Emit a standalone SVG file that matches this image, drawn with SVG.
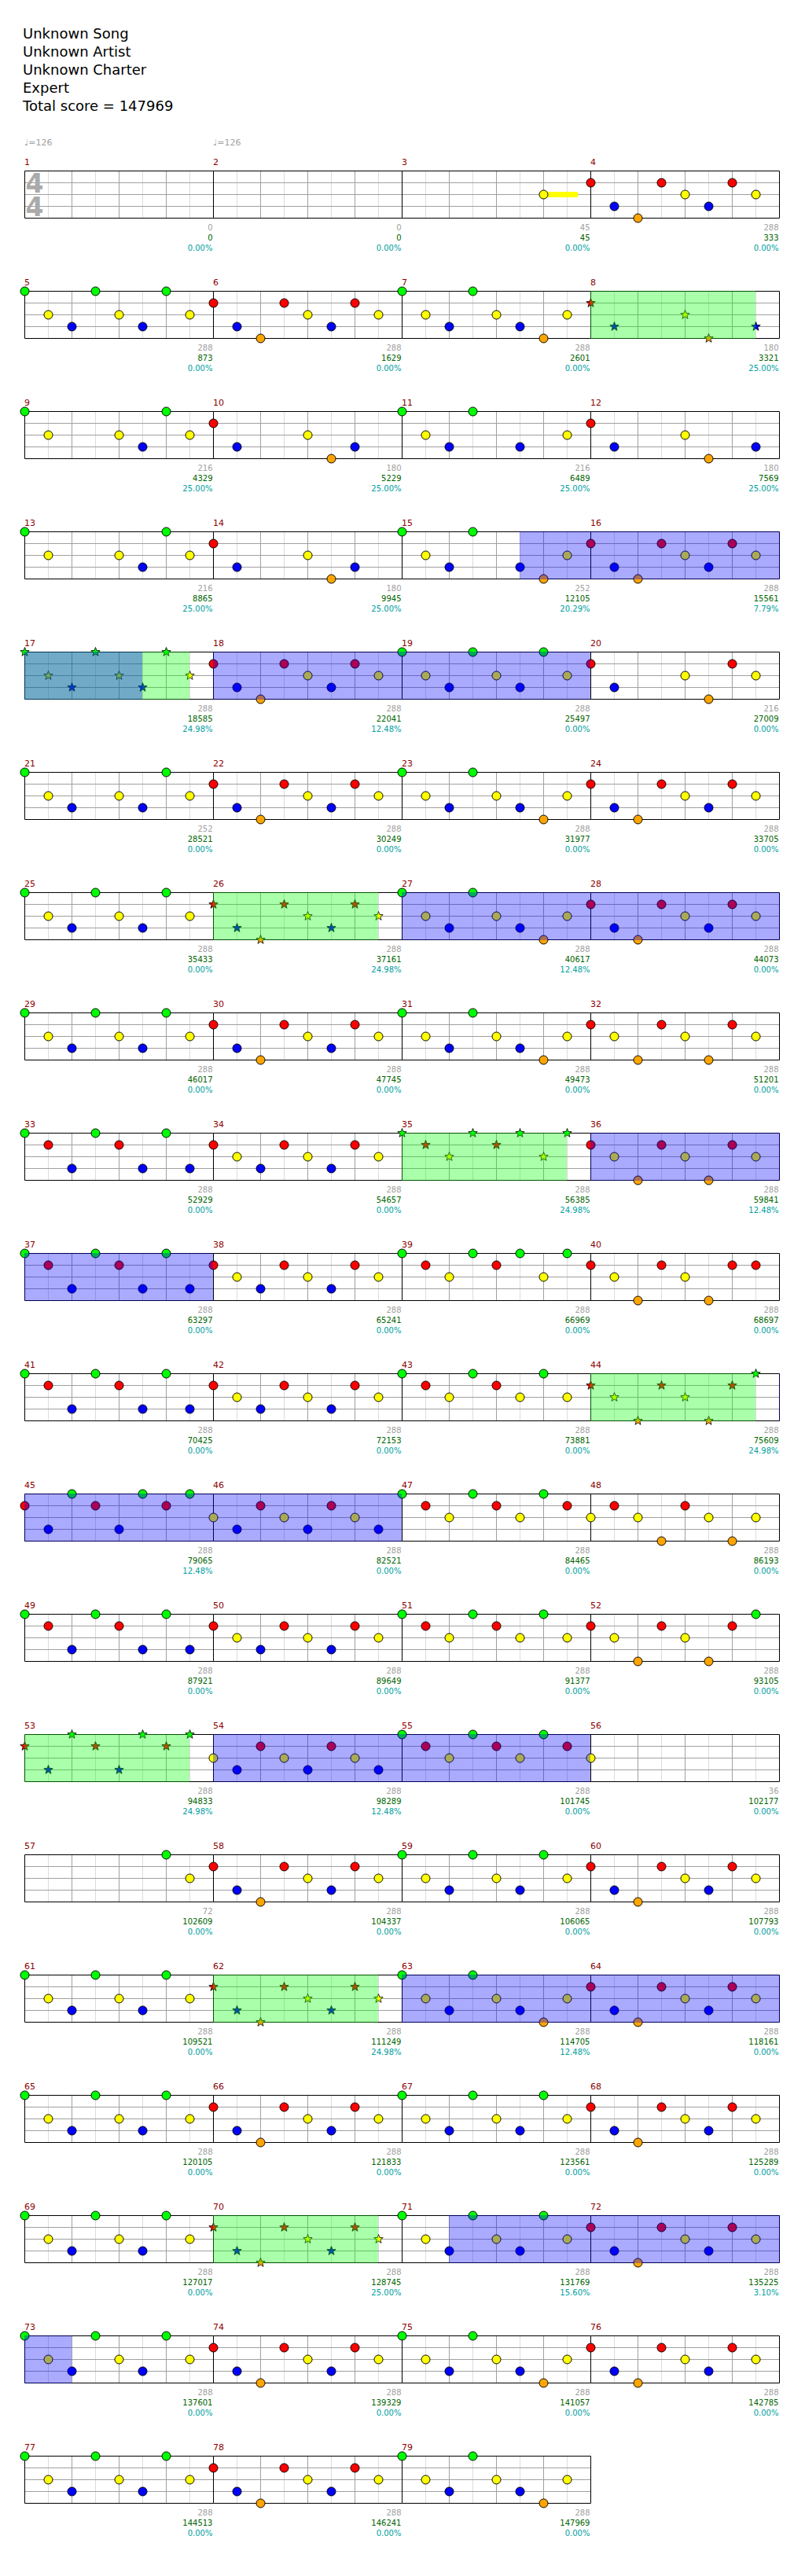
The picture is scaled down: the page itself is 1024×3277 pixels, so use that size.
<svg xmlns="http://www.w3.org/2000/svg" xmlns:xlink="http://www.w3.org/1999/xlink" width="1024" height="3277" viewBox="0 0 1024 3277">
<style>
.mn{font:11px "DejaVu Sans",sans-serif;fill:#8b0000}
.s1,.s2,.s3{font:10px "DejaVu Sans",sans-serif;text-anchor:end}
.s1{fill:#a0a0a0}.s2{fill:#006400}.s3{fill:#00a0a0}
.hd{font:18px "DejaVu Sans",sans-serif;fill:#000}
.tp{font:11px "DejaVu Sans",sans-serif;fill:#a0a0a0}
.ts{font:bold 33px "DejaVu Sans",sans-serif;fill:#aaa;text-anchor:middle}
.n{stroke:#000;stroke-width:1}
.st{stroke:#000;stroke-width:.8}
.gn{fill:#0f0;opacity:.333}.bl{fill:#00f;opacity:.333}
</style>
<defs>
<g id="grid">
<path d="M30 0V60M90 0V60M150 0V60M210 0V60" stroke="#dcdcdc"/>
<path d="M60 0V60M120 0V60M180 0V60M0 15H240M0 30H240M0 45H240" stroke="#a0a0a0"/>
<path d="M0 0H240V60H0Z" fill="none" stroke="#000"/>
</g>
<circle id="G" r="5.5" class="n" fill="#0f0"/>
<circle id="R" cy="15" r="5.5" class="n" fill="#f00"/>
<circle id="Y" cy="30" r="5.5" class="n" fill="#ff0"/>
<circle id="B" cy="45" r="5.5" class="n" fill="#00f"/>
<circle id="O" cy="60" r="5.5" class="n" fill="#ffa500"/>
<polygon id="st" class="st" points="0,-6 1.47,-2.02 5.71,-1.85 2.38,.77 3.53,4.85 0,2.5 -3.53,4.85 -2.38,.77 -5.71,-1.85 -1.47,-2.02"/>
<use id="sG" href="#st" fill="#0f0"/>
<use id="sR" href="#st" y="15" fill="#f00"/>
<use id="sY" href="#st" y="30" fill="#ff0"/>
<use id="sB" href="#st" y="45" fill="#00f"/>
<use id="sO" href="#st" y="60" fill="#ffa500"/>
<g id="PA"><use href="#G"/><use href="#Y" x="30"/><use href="#B" x="60"/><use href="#G" x="90"/><use href="#Y" x="120"/><use href="#B" x="150"/><use href="#G" x="180"/><use href="#Y" x="210"/></g>
<g id="PB"><use href="#R"/><use href="#B" x="30"/><use href="#O" x="60"/><use href="#R" x="90"/><use href="#Y" x="120"/><use href="#B" x="150"/><use href="#R" x="180"/><use href="#Y" x="210"/></g>
<g id="PC"><use href="#G"/><use href="#Y" x="30"/><use href="#B" x="60"/><use href="#G" x="90"/><use href="#Y" x="120"/><use href="#B" x="150"/><use href="#O" x="180"/><use href="#Y" x="210"/></g>
<g id="PD"><use href="#R"/><use href="#Y" x="30"/><use href="#O" x="60"/><use href="#R" x="90"/><use href="#Y" x="120"/><use href="#O" x="150"/><use href="#R" x="180"/><use href="#Y" x="210"/></g>
<g id="PE"><use href="#G"/><use href="#R" x="30"/><use href="#B" x="60"/><use href="#G" x="90"/><use href="#R" x="120"/><use href="#B" x="150"/><use href="#G" x="180"/><use href="#B" x="210"/></g>
<g id="PF"><use href="#R"/><use href="#Y" x="30"/><use href="#B" x="60"/><use href="#R" x="90"/><use href="#Y" x="120"/><use href="#B" x="150"/><use href="#R" x="180"/><use href="#Y" x="210"/></g>
<g id="PG"><use href="#G"/><use href="#R" x="30"/><use href="#Y" x="60"/><use href="#G" x="90"/><use href="#R" x="120"/><use href="#G" x="150"/><use href="#Y" x="180"/><use href="#G" x="210"/></g>
<g id="PH"><use href="#G"/><use href="#R" x="30"/><use href="#Y" x="60"/><use href="#G" x="90"/><use href="#R" x="120"/><use href="#Y" x="150"/><use href="#G" x="180"/><use href="#Y" x="210"/></g>
<g id="PI"><use href="#R"/><use href="#Y" x="30"/><use href="#O" x="60"/><use href="#R" x="90"/><use href="#Y" x="120"/><use href="#O" x="150"/><use href="#R" x="180"/><use href="#G" x="210"/></g>
<g id="PJ"><use href="#R"/><use href="#B" x="30"/><use href="#G" x="60"/><use href="#R" x="90"/><use href="#B" x="120"/><use href="#G" x="150"/><use href="#R" x="180"/><use href="#G" x="210"/></g>
<g id="PK"><use href="#Y"/><use href="#B" x="30"/><use href="#R" x="60"/><use href="#Y" x="90"/><use href="#B" x="120"/><use href="#R" x="150"/><use href="#Y" x="180"/><use href="#B" x="210"/></g>
<g id="PL"><use href="#G"/><use href="#R" x="30"/><use href="#Y" x="60"/><use href="#G" x="90"/><use href="#R" x="120"/><use href="#Y" x="150"/><use href="#G" x="180"/><use href="#R" x="210"/></g>
<g id="SA"><use href="#sG"/><use href="#sY" x="30"/><use href="#sB" x="60"/><use href="#sG" x="90"/><use href="#sY" x="120"/><use href="#sB" x="150"/><use href="#sG" x="180"/><use href="#sY" x="210"/></g>
<g id="SB"><use href="#sR"/><use href="#sB" x="30"/><use href="#sO" x="60"/><use href="#sR" x="90"/><use href="#sY" x="120"/><use href="#sB" x="150"/><use href="#sR" x="180"/><use href="#sY" x="210"/></g>
<g id="SG"><use href="#sG"/><use href="#sR" x="30"/><use href="#sY" x="60"/><use href="#sG" x="90"/><use href="#sR" x="120"/><use href="#sG" x="150"/><use href="#sY" x="180"/><use href="#sG" x="210"/></g>
<g id="SI"><use href="#sR"/><use href="#sY" x="30"/><use href="#sO" x="60"/><use href="#sR" x="90"/><use href="#sY" x="120"/><use href="#sO" x="150"/><use href="#sR" x="180"/><use href="#sG" x="210"/></g>
<g id="SJ"><use href="#sR"/><use href="#sB" x="30"/><use href="#sG" x="60"/><use href="#sR" x="90"/><use href="#sB" x="120"/><use href="#sG" x="150"/><use href="#sR" x="180"/><use href="#sG" x="210"/></g>
</defs>
<rect width="1024" height="3277" fill="#fff"/>
<g id="header">
<text class="hd" x="29" y="49">Unknown Song</text>
<text class="hd" x="29" y="72">Unknown Artist</text>
<text class="hd" x="29" y="95">Unknown Charter</text>
<text class="hd" x="29" y="118">Expert</text>
<text class="hd" x="29" y="141">Total score = 147969</text>
<text class="tp" x="31" y="185">♩=126</text>
<text class="tp" x="271" y="185">♩=126</text>
</g>
<g id="measures">
<g id="m1" transform="translate(31.5,217.5)"><use href="#grid"/><text class="ts" x="12.5" y="27.5">4</text><text class="ts" x="12.5" y="57">4</text><text class="mn" x="-.5" y="-7.5">1</text><text class="s1" x="239" y="75">0</text><text class="s2" x="239" y="88">0</text><text class="s3" x="239" y="101">0.00%</text></g>
<g id="m2" transform="translate(271.5,217.5)"><use href="#grid"/><text class="mn" x="-.5" y="-7.5">2</text><text class="s1" x="239" y="75">0</text><text class="s2" x="239" y="88">0</text><text class="s3" x="239" y="101">0.00%</text></g>
<g id="m3" transform="translate(511.5,217.5)"><use href="#grid"/><rect x="179.5" y="26.5" width="44" height="7" fill="#ff0"/><use href="#Y" x="180"/><text class="mn" x="-.5" y="-7.5">3</text><text class="s1" x="239" y="75">45</text><text class="s2" x="239" y="88">45</text><text class="s3" x="239" y="101">0.00%</text></g>
<g id="m4" transform="translate(751.5,217.5)"><use href="#grid"/><use href="#PB"/><text class="mn" x="-.5" y="-7.5">4</text><text class="s1" x="239" y="75">288</text><text class="s2" x="239" y="88">333</text><text class="s3" x="239" y="101">0.00%</text></g>

<g id="m5" transform="translate(31.5,370.5)"><use href="#grid"/><use href="#PA"/><text class="mn" x="-.5" y="-7.5">5</text><text class="s1" x="239" y="75">288</text><text class="s2" x="239" y="88">873</text><text class="s3" x="239" y="101">0.00%</text></g>
<g id="m6" transform="translate(271.5,370.5)"><use href="#grid"/><use href="#PB"/><text class="mn" x="-.5" y="-7.5">6</text><text class="s1" x="239" y="75">288</text><text class="s2" x="239" y="88">1629</text><text class="s3" x="239" y="101">0.00%</text></g>
<g id="m7" transform="translate(511.5,370.5)"><use href="#grid"/><use href="#PC"/><text class="mn" x="-.5" y="-7.5">7</text><text class="s1" x="239" y="75">288</text><text class="s2" x="239" y="88">2601</text><text class="s3" x="239" y="101">0.00%</text></g>
<g id="m8" transform="translate(751.5,370.5)"><use href="#grid"/><use href="#sR"/><use href="#sB" x="30"/><use href="#sY" x="120"/><use href="#sO" x="150"/><use href="#sB" x="210"/><text class="mn" x="-.5" y="-7.5">8</text><text class="s1" x="239" y="75">180</text><text class="s2" x="239" y="88">3321</text><text class="s3" x="239" y="101">25.00%</text></g>

<g id="m9" transform="translate(31.5,523.5)"><use href="#grid"/><use href="#G"/><use href="#Y" x="30"/><use href="#Y" x="120"/><use href="#B" x="150"/><use href="#G" x="180"/><use href="#Y" x="210"/><text class="mn" x="-.5" y="-7.5">9</text><text class="s1" x="239" y="75">216</text><text class="s2" x="239" y="88">4329</text><text class="s3" x="239" y="101">25.00%</text></g>
<g id="m10" transform="translate(271.5,523.5)"><use href="#grid"/><use href="#R"/><use href="#B" x="30"/><use href="#Y" x="120"/><use href="#O" x="150"/><use href="#B" x="180"/><text class="mn" x="-.5" y="-7.5">10</text><text class="s1" x="239" y="75">180</text><text class="s2" x="239" y="88">5229</text><text class="s3" x="239" y="101">25.00%</text></g>
<g id="m11" transform="translate(511.5,523.5)"><use href="#grid"/><use href="#G"/><use href="#Y" x="30"/><use href="#B" x="60"/><use href="#G" x="90"/><use href="#B" x="150"/><use href="#Y" x="210"/><text class="mn" x="-.5" y="-7.5">11</text><text class="s1" x="239" y="75">216</text><text class="s2" x="239" y="88">6489</text><text class="s3" x="239" y="101">25.00%</text></g>
<g id="m12" transform="translate(751.5,523.5)"><use href="#grid"/><use href="#R"/><use href="#B" x="30"/><use href="#Y" x="120"/><use href="#O" x="150"/><use href="#B" x="210"/><text class="mn" x="-.5" y="-7.5">12</text><text class="s1" x="239" y="75">180</text><text class="s2" x="239" y="88">7569</text><text class="s3" x="239" y="101">25.00%</text></g>

<g id="m13" transform="translate(31.5,676.5)"><use href="#grid"/><use href="#G"/><use href="#Y" x="30"/><use href="#Y" x="120"/><use href="#B" x="150"/><use href="#G" x="180"/><use href="#Y" x="210"/><text class="mn" x="-.5" y="-7.5">13</text><text class="s1" x="239" y="75">216</text><text class="s2" x="239" y="88">8865</text><text class="s3" x="239" y="101">25.00%</text></g>
<g id="m14" transform="translate(271.5,676.5)"><use href="#grid"/><use href="#R"/><use href="#B" x="30"/><use href="#Y" x="120"/><use href="#O" x="150"/><use href="#B" x="180"/><text class="mn" x="-.5" y="-7.5">14</text><text class="s1" x="239" y="75">180</text><text class="s2" x="239" y="88">9945</text><text class="s3" x="239" y="101">25.00%</text></g>
<g id="m15" transform="translate(511.5,676.5)"><use href="#grid"/><use href="#G"/><use href="#Y" x="30"/><use href="#B" x="60"/><use href="#G" x="90"/><use href="#B" x="150"/><use href="#O" x="180"/><use href="#Y" x="210"/><text class="mn" x="-.5" y="-7.5">15</text><text class="s1" x="239" y="75">252</text><text class="s2" x="239" y="88">12105</text><text class="s3" x="239" y="101">20.29%</text></g>
<g id="m16" transform="translate(751.5,676.5)"><use href="#grid"/><use href="#PB"/><text class="mn" x="-.5" y="-7.5">16</text><text class="s1" x="239" y="75">288</text><text class="s2" x="239" y="88">15561</text><text class="s3" x="239" y="101">7.79%</text></g>

<g id="m17" transform="translate(31.5,829.5)"><use href="#grid"/><use href="#SA"/><text class="mn" x="-.5" y="-7.5">17</text><text class="s1" x="239" y="75">288</text><text class="s2" x="239" y="88">18585</text><text class="s3" x="239" y="101">24.98%</text></g>
<g id="m18" transform="translate(271.5,829.5)"><use href="#grid"/><use href="#PB"/><text class="mn" x="-.5" y="-7.5">18</text><text class="s1" x="239" y="75">288</text><text class="s2" x="239" y="88">22041</text><text class="s3" x="239" y="101">12.48%</text></g>
<g id="m19" transform="translate(511.5,829.5)"><use href="#grid"/><use href="#PA"/><text class="mn" x="-.5" y="-7.5">19</text><text class="s1" x="239" y="75">288</text><text class="s2" x="239" y="88">25497</text><text class="s3" x="239" y="101">0.00%</text></g>
<g id="m20" transform="translate(751.5,829.5)"><use href="#grid"/><use href="#R"/><use href="#B" x="30"/><use href="#Y" x="120"/><use href="#O" x="150"/><use href="#R" x="180"/><use href="#Y" x="210"/><text class="mn" x="-.5" y="-7.5">20</text><text class="s1" x="239" y="75">216</text><text class="s2" x="239" y="88">27009</text><text class="s3" x="239" y="101">0.00%</text></g>

<g id="m21" transform="translate(31.5,982.5)"><use href="#grid"/><use href="#G"/><use href="#Y" x="30"/><use href="#B" x="60"/><use href="#Y" x="120"/><use href="#B" x="150"/><use href="#G" x="180"/><use href="#Y" x="210"/><text class="mn" x="-.5" y="-7.5">21</text><text class="s1" x="239" y="75">252</text><text class="s2" x="239" y="88">28521</text><text class="s3" x="239" y="101">0.00%</text></g>
<g id="m22" transform="translate(271.5,982.5)"><use href="#grid"/><use href="#PB"/><text class="mn" x="-.5" y="-7.5">22</text><text class="s1" x="239" y="75">288</text><text class="s2" x="239" y="88">30249</text><text class="s3" x="239" y="101">0.00%</text></g>
<g id="m23" transform="translate(511.5,982.5)"><use href="#grid"/><use href="#PC"/><text class="mn" x="-.5" y="-7.5">23</text><text class="s1" x="239" y="75">288</text><text class="s2" x="239" y="88">31977</text><text class="s3" x="239" y="101">0.00%</text></g>
<g id="m24" transform="translate(751.5,982.5)"><use href="#grid"/><use href="#PB"/><text class="mn" x="-.5" y="-7.5">24</text><text class="s1" x="239" y="75">288</text><text class="s2" x="239" y="88">33705</text><text class="s3" x="239" y="101">0.00%</text></g>

<g id="m25" transform="translate(31.5,1135.5)"><use href="#grid"/><use href="#PA"/><text class="mn" x="-.5" y="-7.5">25</text><text class="s1" x="239" y="75">288</text><text class="s2" x="239" y="88">35433</text><text class="s3" x="239" y="101">0.00%</text></g>
<g id="m26" transform="translate(271.5,1135.5)"><use href="#grid"/><use href="#SB"/><text class="mn" x="-.5" y="-7.5">26</text><text class="s1" x="239" y="75">288</text><text class="s2" x="239" y="88">37161</text><text class="s3" x="239" y="101">24.98%</text></g>
<g id="m27" transform="translate(511.5,1135.5)"><use href="#grid"/><use href="#PC"/><text class="mn" x="-.5" y="-7.5">27</text><text class="s1" x="239" y="75">288</text><text class="s2" x="239" y="88">40617</text><text class="s3" x="239" y="101">12.48%</text></g>
<g id="m28" transform="translate(751.5,1135.5)"><use href="#grid"/><use href="#PB"/><text class="mn" x="-.5" y="-7.5">28</text><text class="s1" x="239" y="75">288</text><text class="s2" x="239" y="88">44073</text><text class="s3" x="239" y="101">0.00%</text></g>

<g id="m29" transform="translate(31.5,1288.5)"><use href="#grid"/><use href="#PA"/><text class="mn" x="-.5" y="-7.5">29</text><text class="s1" x="239" y="75">288</text><text class="s2" x="239" y="88">46017</text><text class="s3" x="239" y="101">0.00%</text></g>
<g id="m30" transform="translate(271.5,1288.5)"><use href="#grid"/><use href="#PB"/><text class="mn" x="-.5" y="-7.5">30</text><text class="s1" x="239" y="75">288</text><text class="s2" x="239" y="88">47745</text><text class="s3" x="239" y="101">0.00%</text></g>
<g id="m31" transform="translate(511.5,1288.5)"><use href="#grid"/><use href="#PC"/><text class="mn" x="-.5" y="-7.5">31</text><text class="s1" x="239" y="75">288</text><text class="s2" x="239" y="88">49473</text><text class="s3" x="239" y="101">0.00%</text></g>
<g id="m32" transform="translate(751.5,1288.5)"><use href="#grid"/><use href="#PD"/><text class="mn" x="-.5" y="-7.5">32</text><text class="s1" x="239" y="75">288</text><text class="s2" x="239" y="88">51201</text><text class="s3" x="239" y="101">0.00%</text></g>

<g id="m33" transform="translate(31.5,1441.5)"><use href="#grid"/><use href="#PE"/><text class="mn" x="-.5" y="-7.5">33</text><text class="s1" x="239" y="75">288</text><text class="s2" x="239" y="88">52929</text><text class="s3" x="239" y="101">0.00%</text></g>
<g id="m34" transform="translate(271.5,1441.5)"><use href="#grid"/><use href="#PF"/><text class="mn" x="-.5" y="-7.5">34</text><text class="s1" x="239" y="75">288</text><text class="s2" x="239" y="88">54657</text><text class="s3" x="239" y="101">0.00%</text></g>
<g id="m35" transform="translate(511.5,1441.5)"><use href="#grid"/><use href="#SG"/><text class="mn" x="-.5" y="-7.5">35</text><text class="s1" x="239" y="75">288</text><text class="s2" x="239" y="88">56385</text><text class="s3" x="239" y="101">24.98%</text></g>
<g id="m36" transform="translate(751.5,1441.5)"><use href="#grid"/><use href="#PD"/><text class="mn" x="-.5" y="-7.5">36</text><text class="s1" x="239" y="75">288</text><text class="s2" x="239" y="88">59841</text><text class="s3" x="239" y="101">12.48%</text></g>

<g id="m37" transform="translate(31.5,1594.5)"><use href="#grid"/><use href="#PE"/><text class="mn" x="-.5" y="-7.5">37</text><text class="s1" x="239" y="75">288</text><text class="s2" x="239" y="88">63297</text><text class="s3" x="239" y="101">0.00%</text></g>
<g id="m38" transform="translate(271.5,1594.5)"><use href="#grid"/><use href="#PF"/><text class="mn" x="-.5" y="-7.5">38</text><text class="s1" x="239" y="75">288</text><text class="s2" x="239" y="88">65241</text><text class="s3" x="239" y="101">0.00%</text></g>
<g id="m39" transform="translate(511.5,1594.5)"><use href="#grid"/><use href="#PG"/><text class="mn" x="-.5" y="-7.5">39</text><text class="s1" x="239" y="75">288</text><text class="s2" x="239" y="88">66969</text><text class="s3" x="239" y="101">0.00%</text></g>
<g id="m40" transform="translate(751.5,1594.5)"><use href="#grid"/><use href="#R"/><use href="#Y" x="30"/><use href="#O" x="60"/><use href="#R" x="90"/><use href="#Y" x="120"/><use href="#O" x="150"/><use href="#R" x="180"/><use href="#R" x="210"/><text class="mn" x="-.5" y="-7.5">40</text><text class="s1" x="239" y="75">288</text><text class="s2" x="239" y="88">68697</text><text class="s3" x="239" y="101">0.00%</text></g>

<g id="m41" transform="translate(31.5,1747.5)"><use href="#grid"/><use href="#PE"/><text class="mn" x="-.5" y="-7.5">41</text><text class="s1" x="239" y="75">288</text><text class="s2" x="239" y="88">70425</text><text class="s3" x="239" y="101">0.00%</text></g>
<g id="m42" transform="translate(271.5,1747.5)"><use href="#grid"/><use href="#PF"/><text class="mn" x="-.5" y="-7.5">42</text><text class="s1" x="239" y="75">288</text><text class="s2" x="239" y="88">72153</text><text class="s3" x="239" y="101">0.00%</text></g>
<g id="m43" transform="translate(511.5,1747.5)"><use href="#grid"/><use href="#PH"/><text class="mn" x="-.5" y="-7.5">43</text><text class="s1" x="239" y="75">288</text><text class="s2" x="239" y="88">73881</text><text class="s3" x="239" y="101">0.00%</text></g>
<g id="m44" transform="translate(751.5,1747.5)"><use href="#grid"/><use href="#SI"/><text class="mn" x="-.5" y="-7.5">44</text><text class="s1" x="239" y="75">288</text><text class="s2" x="239" y="88">75609</text><text class="s3" x="239" y="101">24.98%</text></g>

<g id="m45" transform="translate(31.5,1900.5)"><use href="#grid"/><use href="#PJ"/><text class="mn" x="-.5" y="-7.5">45</text><text class="s1" x="239" y="75">288</text><text class="s2" x="239" y="88">79065</text><text class="s3" x="239" y="101">12.48%</text></g>
<g id="m46" transform="translate(271.5,1900.5)"><use href="#grid"/><use href="#PK"/><text class="mn" x="-.5" y="-7.5">46</text><text class="s1" x="239" y="75">288</text><text class="s2" x="239" y="88">82521</text><text class="s3" x="239" y="101">0.00%</text></g>
<g id="m47" transform="translate(511.5,1900.5)"><use href="#grid"/><use href="#PL"/><text class="mn" x="-.5" y="-7.5">47</text><text class="s1" x="239" y="75">288</text><text class="s2" x="239" y="88">84465</text><text class="s3" x="239" y="101">0.00%</text></g>
<g id="m48" transform="translate(751.5,1900.5)"><use href="#grid"/><use href="#Y"/><use href="#R" x="30"/><use href="#Y" x="60"/><use href="#O" x="90"/><use href="#R" x="120"/><use href="#Y" x="150"/><use href="#O" x="180"/><use href="#Y" x="210"/><text class="mn" x="-.5" y="-7.5">48</text><text class="s1" x="239" y="75">288</text><text class="s2" x="239" y="88">86193</text><text class="s3" x="239" y="101">0.00%</text></g>

<g id="m49" transform="translate(31.5,2053.5)"><use href="#grid"/><use href="#PE"/><text class="mn" x="-.5" y="-7.5">49</text><text class="s1" x="239" y="75">288</text><text class="s2" x="239" y="88">87921</text><text class="s3" x="239" y="101">0.00%</text></g>
<g id="m50" transform="translate(271.5,2053.5)"><use href="#grid"/><use href="#PF"/><text class="mn" x="-.5" y="-7.5">50</text><text class="s1" x="239" y="75">288</text><text class="s2" x="239" y="88">89649</text><text class="s3" x="239" y="101">0.00%</text></g>
<g id="m51" transform="translate(511.5,2053.5)"><use href="#grid"/><use href="#PH"/><text class="mn" x="-.5" y="-7.5">51</text><text class="s1" x="239" y="75">288</text><text class="s2" x="239" y="88">91377</text><text class="s3" x="239" y="101">0.00%</text></g>
<g id="m52" transform="translate(751.5,2053.5)"><use href="#grid"/><use href="#PI"/><text class="mn" x="-.5" y="-7.5">52</text><text class="s1" x="239" y="75">288</text><text class="s2" x="239" y="88">93105</text><text class="s3" x="239" y="101">0.00%</text></g>

<g id="m53" transform="translate(31.5,2206.5)"><use href="#grid"/><use href="#SJ"/><text class="mn" x="-.5" y="-7.5">53</text><text class="s1" x="239" y="75">288</text><text class="s2" x="239" y="88">94833</text><text class="s3" x="239" y="101">24.98%</text></g>
<g id="m54" transform="translate(271.5,2206.5)"><use href="#grid"/><use href="#PK"/><text class="mn" x="-.5" y="-7.5">54</text><text class="s1" x="239" y="75">288</text><text class="s2" x="239" y="88">98289</text><text class="s3" x="239" y="101">12.48%</text></g>
<g id="m55" transform="translate(511.5,2206.5)"><use href="#grid"/><use href="#PL"/><text class="mn" x="-.5" y="-7.5">55</text><text class="s1" x="239" y="75">288</text><text class="s2" x="239" y="88">101745</text><text class="s3" x="239" y="101">0.00%</text></g>
<g id="m56" transform="translate(751.5,2206.5)"><use href="#grid"/><use href="#Y"/><text class="mn" x="-.5" y="-7.5">56</text><text class="s1" x="239" y="75">36</text><text class="s2" x="239" y="88">102177</text><text class="s3" x="239" y="101">0.00%</text></g>

<g id="m57" transform="translate(31.5,2359.5)"><use href="#grid"/><use href="#G" x="180"/><use href="#Y" x="210"/><text class="mn" x="-.5" y="-7.5">57</text><text class="s1" x="239" y="75">72</text><text class="s2" x="239" y="88">102609</text><text class="s3" x="239" y="101">0.00%</text></g>
<g id="m58" transform="translate(271.5,2359.5)"><use href="#grid"/><use href="#PB"/><text class="mn" x="-.5" y="-7.5">58</text><text class="s1" x="239" y="75">288</text><text class="s2" x="239" y="88">104337</text><text class="s3" x="239" y="101">0.00%</text></g>
<g id="m59" transform="translate(511.5,2359.5)"><use href="#grid"/><use href="#PA"/><text class="mn" x="-.5" y="-7.5">59</text><text class="s1" x="239" y="75">288</text><text class="s2" x="239" y="88">106065</text><text class="s3" x="239" y="101">0.00%</text></g>
<g id="m60" transform="translate(751.5,2359.5)"><use href="#grid"/><use href="#PB"/><text class="mn" x="-.5" y="-7.5">60</text><text class="s1" x="239" y="75">288</text><text class="s2" x="239" y="88">107793</text><text class="s3" x="239" y="101">0.00%</text></g>

<g id="m61" transform="translate(31.5,2512.5)"><use href="#grid"/><use href="#PA"/><text class="mn" x="-.5" y="-7.5">61</text><text class="s1" x="239" y="75">288</text><text class="s2" x="239" y="88">109521</text><text class="s3" x="239" y="101">0.00%</text></g>
<g id="m62" transform="translate(271.5,2512.5)"><use href="#grid"/><use href="#SB"/><text class="mn" x="-.5" y="-7.5">62</text><text class="s1" x="239" y="75">288</text><text class="s2" x="239" y="88">111249</text><text class="s3" x="239" y="101">24.98%</text></g>
<g id="m63" transform="translate(511.5,2512.5)"><use href="#grid"/><use href="#PC"/><text class="mn" x="-.5" y="-7.5">63</text><text class="s1" x="239" y="75">288</text><text class="s2" x="239" y="88">114705</text><text class="s3" x="239" y="101">12.48%</text></g>
<g id="m64" transform="translate(751.5,2512.5)"><use href="#grid"/><use href="#PB"/><text class="mn" x="-.5" y="-7.5">64</text><text class="s1" x="239" y="75">288</text><text class="s2" x="239" y="88">118161</text><text class="s3" x="239" y="101">0.00%</text></g>

<g id="m65" transform="translate(31.5,2665.5)"><use href="#grid"/><use href="#PA"/><text class="mn" x="-.5" y="-7.5">65</text><text class="s1" x="239" y="75">288</text><text class="s2" x="239" y="88">120105</text><text class="s3" x="239" y="101">0.00%</text></g>
<g id="m66" transform="translate(271.5,2665.5)"><use href="#grid"/><use href="#PB"/><text class="mn" x="-.5" y="-7.5">66</text><text class="s1" x="239" y="75">288</text><text class="s2" x="239" y="88">121833</text><text class="s3" x="239" y="101">0.00%</text></g>
<g id="m67" transform="translate(511.5,2665.5)"><use href="#grid"/><use href="#PA"/><text class="mn" x="-.5" y="-7.5">67</text><text class="s1" x="239" y="75">288</text><text class="s2" x="239" y="88">123561</text><text class="s3" x="239" y="101">0.00%</text></g>
<g id="m68" transform="translate(751.5,2665.5)"><use href="#grid"/><use href="#PB"/><text class="mn" x="-.5" y="-7.5">68</text><text class="s1" x="239" y="75">288</text><text class="s2" x="239" y="88">125289</text><text class="s3" x="239" y="101">0.00%</text></g>

<g id="m69" transform="translate(31.5,2818.5)"><use href="#grid"/><use href="#PA"/><text class="mn" x="-.5" y="-7.5">69</text><text class="s1" x="239" y="75">288</text><text class="s2" x="239" y="88">127017</text><text class="s3" x="239" y="101">0.00%</text></g>
<g id="m70" transform="translate(271.5,2818.5)"><use href="#grid"/><use href="#SB"/><text class="mn" x="-.5" y="-7.5">70</text><text class="s1" x="239" y="75">288</text><text class="s2" x="239" y="88">128745</text><text class="s3" x="239" y="101">25.00%</text></g>
<g id="m71" transform="translate(511.5,2818.5)"><use href="#grid"/><use href="#PA"/><text class="mn" x="-.5" y="-7.5">71</text><text class="s1" x="239" y="75">288</text><text class="s2" x="239" y="88">131769</text><text class="s3" x="239" y="101">15.60%</text></g>
<g id="m72" transform="translate(751.5,2818.5)"><use href="#grid"/><use href="#PB"/><text class="mn" x="-.5" y="-7.5">72</text><text class="s1" x="239" y="75">288</text><text class="s2" x="239" y="88">135225</text><text class="s3" x="239" y="101">3.10%</text></g>

<g id="m73" transform="translate(31.5,2971.5)"><use href="#grid"/><use href="#PA"/><text class="mn" x="-.5" y="-7.5">73</text><text class="s1" x="239" y="75">288</text><text class="s2" x="239" y="88">137601</text><text class="s3" x="239" y="101">0.00%</text></g>
<g id="m74" transform="translate(271.5,2971.5)"><use href="#grid"/><use href="#PB"/><text class="mn" x="-.5" y="-7.5">74</text><text class="s1" x="239" y="75">288</text><text class="s2" x="239" y="88">139329</text><text class="s3" x="239" y="101">0.00%</text></g>
<g id="m75" transform="translate(511.5,2971.5)"><use href="#grid"/><use href="#PC"/><text class="mn" x="-.5" y="-7.5">75</text><text class="s1" x="239" y="75">288</text><text class="s2" x="239" y="88">141057</text><text class="s3" x="239" y="101">0.00%</text></g>
<g id="m76" transform="translate(751.5,2971.5)"><use href="#grid"/><use href="#PB"/><text class="mn" x="-.5" y="-7.5">76</text><text class="s1" x="239" y="75">288</text><text class="s2" x="239" y="88">142785</text><text class="s3" x="239" y="101">0.00%</text></g>

<g id="m77" transform="translate(31.5,3124.5)"><use href="#grid"/><use href="#PA"/><text class="mn" x="-.5" y="-7.5">77</text><text class="s1" x="239" y="75">288</text><text class="s2" x="239" y="88">144513</text><text class="s3" x="239" y="101">0.00%</text></g>
<g id="m78" transform="translate(271.5,3124.5)"><use href="#grid"/><use href="#PB"/><text class="mn" x="-.5" y="-7.5">78</text><text class="s1" x="239" y="75">288</text><text class="s2" x="239" y="88">146241</text><text class="s3" x="239" y="101">0.00%</text></g>
<g id="m79" transform="translate(511.5,3124.5)"><use href="#grid"/><use href="#PC"/><text class="mn" x="-.5" y="-7.5">79</text><text class="s1" x="239" y="75">288</text><text class="s2" x="239" y="88">147969</text><text class="s3" x="239" y="101">0.00%</text></g>
</g>
<g id="phrases">
<rect class="gn" x="751" y="370" width="210" height="61"/>
<rect class="gn" x="31" y="829" width="210" height="61"/>
<rect class="gn" x="271" y="1135" width="210" height="61"/>
<rect class="gn" x="511" y="1441" width="210" height="61"/>
<rect class="gn" x="751" y="1747" width="210" height="61"/>
<rect class="gn" x="31" y="2206" width="210" height="61"/>
<rect class="gn" x="271" y="2512" width="210" height="61"/>
<rect class="gn" x="271" y="2818" width="210" height="61"/>
<rect class="bl" x="661" y="676" width="331" height="61"/>
<rect class="bl" x="31" y="829" width="150" height="61"/>
<rect class="bl" x="271" y="829" width="480" height="61"/>
<rect class="bl" x="511" y="1135" width="481" height="61"/>
<rect class="bl" x="751" y="1441" width="241" height="61"/>
<rect class="bl" x="31" y="1594" width="240" height="61"/>
<rect class="bl" x="991" y="1747" width="1" height="61"/>
<rect class="bl" x="31" y="1900" width="480" height="61"/>
<rect class="bl" x="271" y="2206" width="480" height="61"/>
<rect class="bl" x="511" y="2512" width="481" height="61"/>
<rect class="bl" x="571" y="2818" width="421" height="61"/>
<rect class="bl" x="31" y="2971" width="60" height="61"/>
</g>
</svg>
